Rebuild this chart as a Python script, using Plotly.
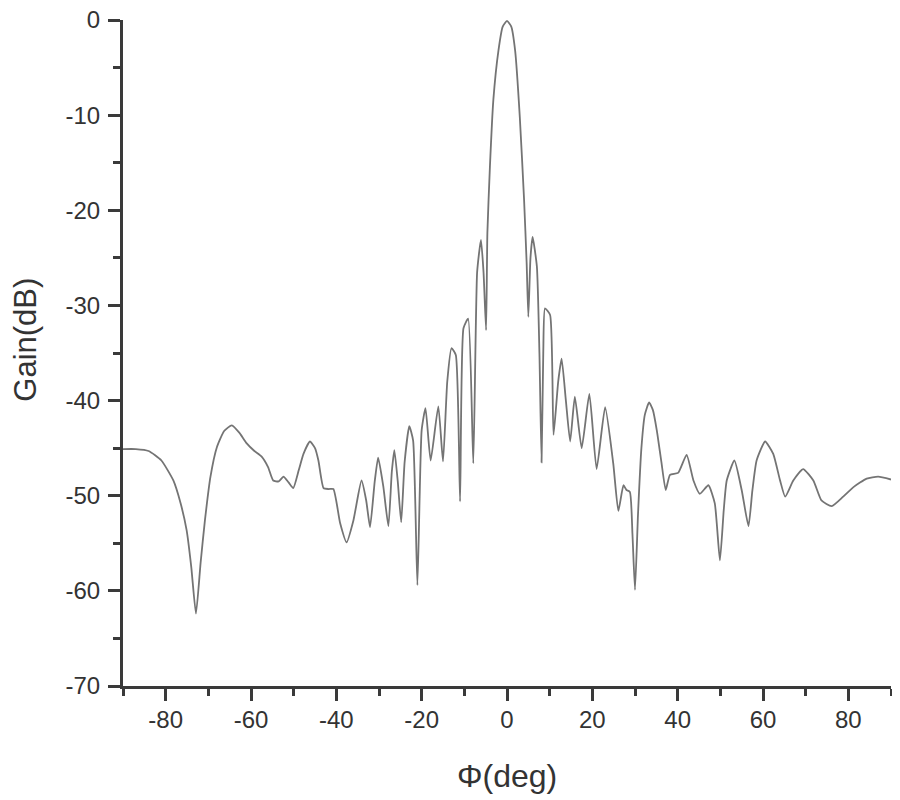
import plotly.graph_objects as go

# angle (deg) and gain (dB)
phi = [
    -90, -87, -84, -81, -78.2, -76.5, -75.1, -74, -72.9, -71.8, -70.8, -69.5,
    -68.0, -66.3, -64.5, -62.7, -61.0, -59.2, -57.5, -56.0, -54.8, -53.5,
    -52.4, -51.2, -50.1, -48.8, -47.7, -46.2, -45.0, -44.2, -43.0, -41.8,
    -40.7, -39.1, -37.6, -36.0, -34.1, -33.0, -32.1, -31.0, -30.2, -29.0,
    -27.8, -27.0, -26.4, -25.6, -24.8, -24.0, -22.9, -22.0, -21.0, -20.0,
    -19.1, -17.9, -16.1, -15.0, -14.0, -13.0, -12.0, -11.0, -10.2, -9.1,
    -7.9, -7.0, -6.1, -5.5, -4.9, -4.6, -4.0, -3.2, -2.0, -1.0, 0.0,
    1.0, 1.9, 3.0, 4.0, 4.6, 5.0, 5.5, 6.0, 7.0, 7.6, 8.1, 8.5, 8.9,
    10.1, 10.9, 12.0, 12.8, 13.8, 14.8, 15.9, 17.5, 19.3, 21.0, 23.0,
    24.9, 26.1, 27.3, 28.0, 28.8, 29.4, 30.0, 30.7, 31.5, 32.3, 33.3,
    34.2, 35.1, 36.2, 37.2, 38.2, 40.1, 42.1, 43.7, 45.2, 47.2, 48.7,
    49.9, 50.8, 51.5, 53.3, 55.0, 56.6, 57.5, 58.5, 60.5, 62.4, 64.0,
    65.2, 67.1, 69.4, 71.8, 73.7, 76.1, 78.8, 81.2, 84.3, 87.0, 90.0,
]
gain = [
    -45.1, -45.1, -45.3, -46.3, -48.4, -50.8, -53.6, -57.5, -62.4, -57.0, -52.6, -48.0,
    -44.9, -43.2, -42.6, -43.4, -44.5, -45.3, -45.9, -47.0, -48.4, -48.5,
    -48.0, -48.6, -49.2, -47.3, -45.6, -44.3, -45.0, -46.3, -49.2, -49.3,
    -49.3, -52.9, -54.9, -52.6, -48.4, -50.5, -53.3, -48.5, -46.0, -49.0,
    -53.2, -47.5, -45.2, -48.5, -52.8, -46.5, -42.7, -44.2, -59.4, -43.1,
    -40.8, -46.3, -40.6, -46.4, -38.0, -34.5, -35.2, -50.6, -32.4, -31.4,
    -46.6, -26.5, -23.1, -26.5, -32.6, -22.4, -15.4, -8.4, -3.2, -0.7, -0.1,
    -0.7, -3.2, -10.2, -18.9, -25.5, -31.2, -25.0, -22.8, -25.9, -35.0, -46.5, -35.0, -30.3,
    -31.0, -43.6, -38.0, -35.6, -40.0, -44.3, -39.6, -45.0, -39.3, -47.2, -40.7,
    -46.6, -51.6, -48.9, -49.4, -49.6, -54.0, -59.9, -52.0, -45.0, -41.5, -40.2,
    -41.0, -43.1, -46.5, -49.4, -47.8, -47.6, -45.7, -48.4, -49.8, -48.9, -50.8,
    -56.8, -51.5, -48.4, -46.3, -49.4, -53.2, -49.5, -46.3, -44.3, -45.6, -48.4,
    -50.1, -48.4, -47.2, -48.4, -50.5, -51.1, -50.1, -49.1, -48.2, -48.0, -48.3,
]

x_ticks = [-80, -60, -40, -20, 0, 20, 40, 60, 80]
x_labels = ["-80", "-60", "-40", "-20", "0", "20", "40", "60", "80"]
y_ticks = [0, -10, -20, -30, -40, -50, -60, -70]
y_labels = ["0", "-10", "-20", "-30", "-40", "-50", "-60", "-70"]

AXIS = "#3a3a3a"
TEXT = "#333333"
FONT = "Liberation Sans, Arial, sans-serif"

fig = go.Figure()
fig.add_trace(go.Scatter(
    x=phi, y=gain, mode="lines",
    line=dict(color="#747474", width=1.8, shape="spline", smoothing=0.5),
    showlegend=False,
))

# the page has an 8px body margin, so margins are shifted by 8px
fig.update_layout(
    width=900, height=800,
    paper_bgcolor="white", plot_bgcolor="white",
    margin=dict(l=115, r=17, t=12, b=122),
    font=dict(family=FONT, color=TEXT, size=24),
    annotations=[
        dict(text="Gain(dB)", xref="paper", yref="paper", x=0, y=0.52,
             xshift=-97, textangle=-90, showarrow=False,
             xanchor="center", yanchor="middle",
             font=dict(size=31, color=TEXT, family=FONT)),
        dict(text="Φ(deg)", xref="paper", yref="paper", x=0.5, y=0,
             yshift=-90, showarrow=False, xanchor="center", yanchor="middle",
             font=dict(size=32, color=TEXT, family=FONT)),
    ],
)
fig.update_xaxes(
    range=[-90, 90], tickvals=x_ticks, ticktext=x_labels,
    showgrid=False, zeroline=False, automargin=False,
    showline=True, linecolor=AXIS, linewidth=3,
    ticks="outside", ticklen=12, tickwidth=3, tickcolor=AXIS,
    ticklabelstandoff=-2, ticklabeloverflow="allow",
    tickfont=dict(size=24, color=TEXT),
    minor=dict(ticks="outside", ticklen=7, tickwidth=3, tickcolor=AXIS,
               dtick=10, tick0=-90, showgrid=False),
)
fig.update_yaxes(
    range=[-70, 0], tickvals=y_ticks, ticktext=y_labels,
    showgrid=False, zeroline=False, automargin=False,
    showline=True, linecolor=AXIS, linewidth=3,
    ticks="outside", ticklen=12, tickwidth=3, tickcolor=AXIS,
    ticklabelstandoff=3, ticklabeloverflow="allow",
    tickfont=dict(size=24, color=TEXT),
    minor=dict(ticks="outside", ticklen=7, tickwidth=3, tickcolor=AXIS,
               dtick=5, tick0=0, showgrid=False),
)

fig.write_html("out.html")
